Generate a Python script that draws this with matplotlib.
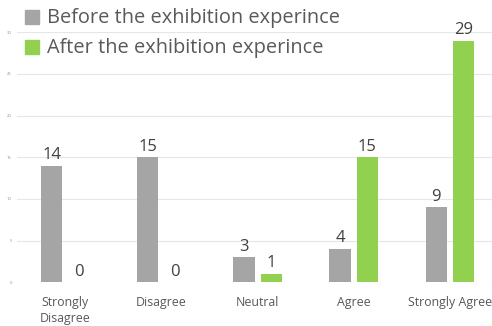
import matplotlib
matplotlib.use("Agg")
import matplotlib.pyplot as plt
from matplotlib.lines import Line2D
import numpy as np

plt.rcParams['font.family'] = ['Open Sans', 'DejaVu Sans']

categories = ["Strongly\nDisagree", "Disagree", "Neutral", "Agree", "Strongly Agree"]
before = [14, 15, 3, 4, 9]
after = [0, 0, 1, 15, 29]
series_names = ["Before the exhibition experince", "After the exhibition experince"]
y_ticks = [0, 5, 10, 15, 20, 25, 30]

W, H = 492, 326
fig = plt.figure(figsize=(W / 100, H / 100), dpi=100)
fig.patch.set_facecolor("white")

# axes placed in pixel units
left_px, right_px = 17.2, 498.0
bottom_px, top_px = 282.3, 32.3
ax = fig.add_axes([left_px / W, (H - bottom_px) / H,
                   (right_px - left_px) / W, (bottom_px - top_px) / H])

grey = "#A5A5A5"
green = "#92D050"
bw = 0.222
off = bw / 2 + 0.031
x = np.arange(len(categories))

b1 = ax.bar(x - off, before, width=bw, color=grey, zorder=3)
b2 = ax.bar(x + off, after, width=bw, color=green, zorder=3)

for bars, vals in ((b1, before), (b2, after)):
    for rect, v in zip(bars, vals):
        ax.text(rect.get_x() + rect.get_width() / 2, v + 0.3, f"{v}",
                ha="center", va="bottom", fontsize=12, color="#404040")

ax.set_xlim(-0.5, len(categories) - 0.5)
ax.set_ylim(0, 30)
ax.set_yticks(y_ticks)
ax.set_yticklabels([str(t) for t in y_ticks], fontsize=3, color="#8c8c8c")
ax.tick_params(axis="y", length=0, pad=4)
ax.set_xticks(x)
ax.set_xticklabels(categories, fontsize=8.9, color="#595959", linespacing=1.25)
ax.tick_params(axis="x", length=0, pad=10)
ax.grid(axis="y", color="#e6e6e6", linewidth=0.8, zorder=0)
for s in ax.spines.values():
    s.set_visible(False)
ax.set_facecolor("none")

handles = [Line2D([], [], marker="s", linestyle="none", markersize=9.5,
                  markerfacecolor=c, markeredgecolor=c) for c in (grey, green)]
fig.legend(handles, series_names, loc="upper left",
           bbox_to_anchor=(14 / W, 1 - 0.5 / H), frameon=False,
           fontsize=14.4, labelcolor="#595959", handletextpad=0.25,
           handlelength=1.0, labelspacing=0.5, borderaxespad=0)

fig.savefig("out.png", dpi=100)
